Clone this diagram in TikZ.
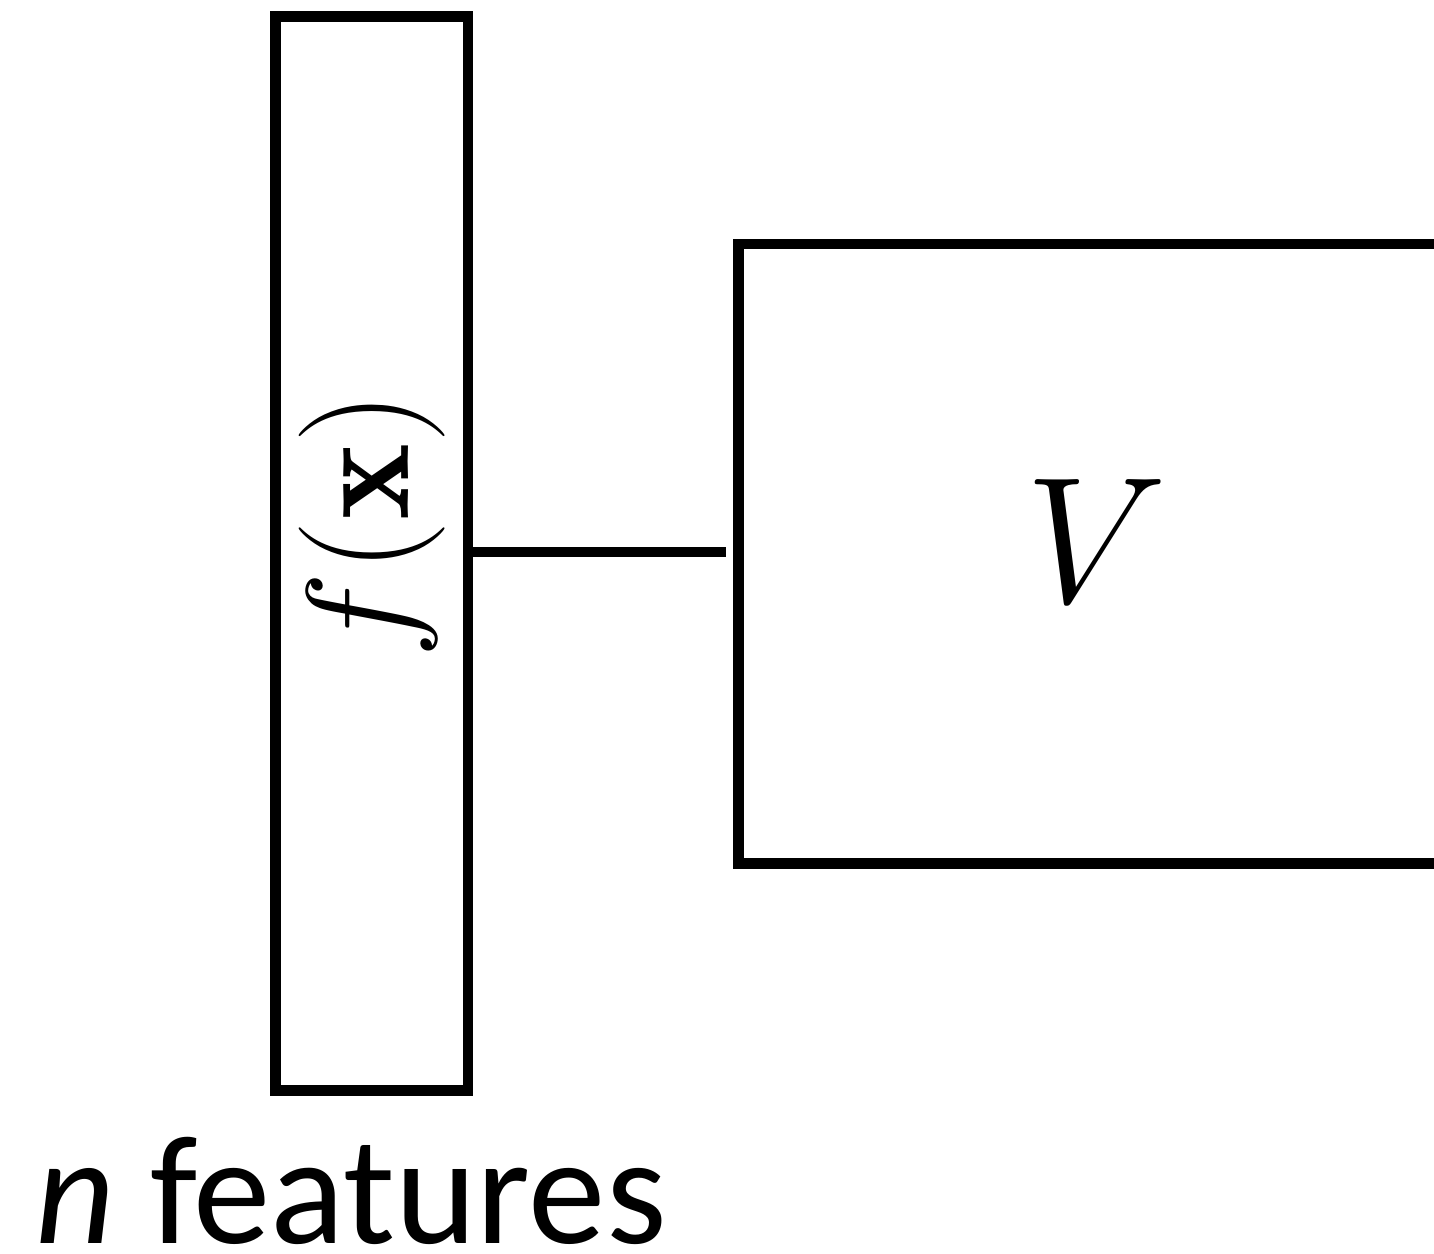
\RequirePackage{fix-cm}
\documentclass[tikz,border=0pt]{standalone}
\usepackage{fontspec}
\newfontfamily\calib{Carlito}
\begin{document}
\begin{tikzpicture}[x=1pt,y=-1pt,
  boxstyle/.style={draw=black, line width=10.5pt, fill=white, inner sep=0pt, outer sep=0.5\pgflinewidth},
  wire/.style={draw=black, line width=10pt, line cap=butt}]
\clip (0,0) rectangle (1434,1253);
\fill[white] (0,0) rectangle (1434,1253);
\node[boxstyle, minimum width=192.7pt, minimum height=1073.8pt] (fbox) at (371.7,553.6) {};
\node[boxstyle, minimum width=716pt, minimum height=619.5pt] (vbox) at (1096.7,553.5) {};
\node[rotate=90, inner sep=0pt] (flabel) at (372.2,525) {\fontsize{146}{170}\selectfont $f(\mathbf{x})$};
\node[inner sep=0pt] (vlabel) at (1096,541) {\fontsize{180}{200}\selectfont $V$};
\draw[wire, shorten >=7.6pt] (fbox.east |- 0,552.3) -- (vbox.west |- 0,552.3);
\node[anchor=base, inner sep=0pt, text depth=0pt] (nfeat) at (351,1243) {\fontsize{155}{180}\selectfont\calib\textit{n} features};
\end{tikzpicture}
\end{document}
